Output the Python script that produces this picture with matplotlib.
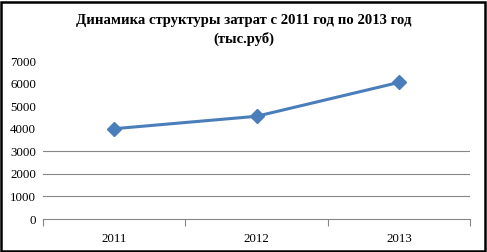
import matplotlib
matplotlib.use("Agg")
import matplotlib.pyplot as plt
from matplotlib.patches import Rectangle

years = ["2011", "2012", "2013"]
values = [4000, 4550, 6050]
yticks = [0, 1000, 2000, 3000, 4000, 5000, 6000, 7000]
grid_values = [1000, 2000, 3000]
title = "Динамика структуры затрат с 2011 год по 2013 год\n(тыс.руб)"

plt.rcParams['font.family'] = ['Liberation Serif', 'DejaVu Serif']

fig = plt.figure(figsize=(4.87, 2.52), dpi=100)
ax = fig.add_axes([43/487, 1 - 219/252, 427/487, (219 - 61)/252])

x = list(range(len(years)))
ax.plot(x, values, color="#4A7EBB", lw=2.2, marker="D", ms=7,
        markerfacecolor="#4A7EBB", markeredgecolor="#4A7EBB")

ax.set_xlim(-0.5, len(years) - 0.5)
ax.set_ylim(0, 7000)
ax.set_yticks(yticks)
ax.set_yticklabels([str(v) for v in yticks], fontsize=9.3)
ax.set_xticks(x)
ax.set_xticklabels(years, fontsize=9.3)
ax.tick_params(axis='x', length=0, pad=10)
ax.tick_params(axis='y', length=0, pad=5)
ax.set_xticks([-0.5, 0.5, 1.5, 2.5], minor=True)
ax.tick_params(axis='x', which='minor', length=5, color="#868686", width=0.8)

for v in grid_values:
    ax.axhline(v, color="#868686", lw=0.8, zorder=0)

for s in ['left', 'right', 'top']:
    ax.spines[s].set_visible(False)
ax.spines['bottom'].set_color("#868686")
ax.spines['bottom'].set_linewidth(0.8)

fig.text(0.5, 1 - 30/252, title, ha='center', va='center', fontsize=10.6,
         fontweight='bold', linespacing=1.45)

fig.patches.append(Rectangle((0.002, 0.004), 0.994, 0.99, transform=fig.transFigure,
                             fill=False, edgecolor='black', lw=1.8))

fig.savefig("out.png", dpi=100)
